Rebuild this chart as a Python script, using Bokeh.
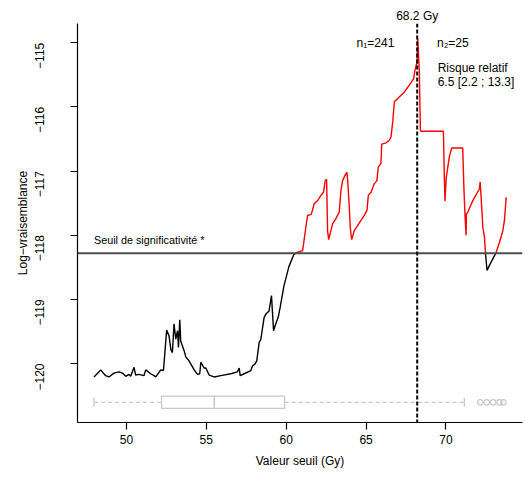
import math
from bokeh.plotting import figure
from bokeh.models import Range1d, FixedTicker, Label, Span, LinearAxis
from bokeh.core.properties import value
from bokeh.embed import file_html
from bokeh.resources import INLINE

# ---- data ----
seuil_x = [47.97, 48.39, 48.70, 48.91, 49.22, 49.54, 49.75, 49.96, 50.16, 50.27,
           50.48, 50.58, 50.79, 51.10, 51.21, 51.52, 51.73, 51.84, 52.15, 52.32,
           52.52, 52.67, 52.78, 52.88, 52.98, 53.09, 53.20, 53.26, 53.34, 53.40,
           53.61, 53.72, 53.92, 54.24, 54.45, 54.59, 54.66, 54.86, 54.97, 55.18,
           55.49, 55.91, 56.54, 56.95, 57.06, 57.12, 57.37, 57.79, 57.89, 58.04,
           58.16, 58.31, 58.41, 58.62, 58.73, 58.93, 59.08, 59.21, 59.35, 59.50,
           59.62, 59.86, 60.17, 60.48, 60.67, 61.03, 61.13, 61.23, 61.34, 61.55,
           61.65, 61.75, 61.97, 62.17, 62.34, 62.44, 62.53, 62.59, 62.66, 62.80,
           62.91, 63.11, 63.32, 63.43, 63.53, 63.74, 63.80, 63.85, 63.95, 64.01,
           64.10, 64.26, 64.47, 64.68, 64.89, 65.06, 65.14, 65.31, 65.51, 65.68,
           65.76, 65.93, 65.98, 66.25, 66.45, 66.56, 66.67, 66.77, 66.98, 67.19,
           67.39, 67.71, 67.98, 68.06, 68.19, 68.23, 68.33, 68.40, 68.44, 69.84,
           69.90, 69.94, 70.01, 70.21, 70.36, 71.05, 71.12, 71.20, 71.26, 71.28,
           71.37, 71.68, 72.09, 72.14, 72.20, 72.31, 72.41, 72.47, 72.57, 72.72,
           72.93, 73.14, 73.35, 73.56, 73.66, 73.77]
loglik_y = [-120.21, -120.10, -120.19, -120.21, -120.15, -120.13, -120.15, -120.20, -120.17, -120.20,
            -120.06, -120.18, -120.17, -120.19, -120.10, -120.16, -120.19, -120.21, -120.10, -120.11,
            -119.48, -119.57, -119.78, -119.83, -119.38, -119.62, -119.49, -119.75, -119.32, -119.65,
            -119.80, -119.90, -119.96, -120.10, -120.17, -120.16, -119.98, -120.07, -120.07, -120.18,
            -120.21, -120.19, -120.16, -120.13, -120.07, -120.19, -120.16, -120.11, -120.04, -120.01,
            -119.96, -119.67, -119.63, -119.28, -119.23, -119.18, -118.94, -119.49, -119.38, -119.28,
            -119.13, -118.79, -118.49, -118.30, -118.27, -118.24, -118.06, -117.88, -117.69, -117.68,
            -117.61, -117.51, -117.46, -117.38, -117.33, -117.15, -117.13, -117.93, -118.07, -117.93,
            -117.82, -117.74, -117.64, -117.30, -117.15, -117.04, -117.02, -117.15, -117.56, -117.88,
            -118.07, -117.93, -117.85, -117.77, -117.69, -117.61, -117.38, -117.33, -117.20, -117.15,
            -116.94, -116.88, -116.58, -116.56, -116.52, -116.47, -116.23, -115.92, -115.87, -115.82,
            -115.77, -115.66, -115.56, -115.43, -115.30, -114.93, -115.43, -116.36, -116.38, -116.38,
            -117.12, -117.47, -117.12, -116.78, -116.64, -116.64, -117.25, -117.74, -118.00, -117.67,
            -117.64, -117.46, -117.28, -117.17, -117.41, -117.88, -118.03, -118.27, -118.55, -118.47,
            -118.37, -118.27, -118.11, -117.93, -117.77, -117.41]
threshold = -118.28
cut_dose = 68.2
box_stats = [47.97, 52.2, 55.5, 59.9, 71.15]   # whisker low, Q1, median, Q3, whisker high
outliers = [72.15, 72.55, 72.95, 73.35, 73.6]
x_ticks = [50, 55, 60, 65, 70]
y_ticks = [-120, -119, -118, -117, -116, -115]

FONT = "Liberation Sans"

# ---- split the curve into pieces above (red) / below (black) the threshold ----
pieces_x, pieces_y, piece_cols = [], [], []
above = loglik_y[0] > threshold
cx, cy = [seuil_x[0]], [loglik_y[0]]
for i in range(1, len(seuil_x)):
    x0, y0, x1, y1 = seuil_x[i - 1], loglik_y[i - 1], seuil_x[i], loglik_y[i]
    a1 = y1 > threshold
    if a1 != above:
        t = (threshold - y0) / (y1 - y0)
        xc = x0 + t * (x1 - x0)
        cx.append(xc); cy.append(threshold)
        pieces_x.append(cx); pieces_y.append(cy)
        piece_cols.append("#ff0000" if above else "black")
        cx, cy = [xc], [threshold]
        above = a1
    cx.append(x1); cy.append(y1)
pieces_x.append(cx); pieces_y.append(cy)
piece_cols.append("#ff0000" if above else "black")

p = figure(width=525, height=483, output_backend="svg", toolbar_location=None,
           x_range=Range1d(46.94, 74.79), y_range=Range1d(-120.92, -114.70),
           min_border_left=77, min_border_right=3, min_border_top=23, min_border_bottom=61)
p.outline_line_color = None
p.xgrid.visible = False
p.ygrid.visible = False
p.background_fill_color = "white"
bottom_ax = p.below[0]
left_ax = p.left[0]

# boxplot
BOX_Y = -120.605
BOX_H = 0.095
CAP_H = 0.07
GRAY = "#c8c8c8"
wl, q1, med, q3, wh = box_stats
p.segment(x0=[wl, q3], y0=[BOX_Y, BOX_Y], x1=[q1, wh], y1=[BOX_Y, BOX_Y],
          line_color=GRAY, line_width=1.3, line_dash="4 3")
p.segment(x0=[wl, wh], y0=[BOX_Y - CAP_H] * 2, x1=[wl, wh], y1=[BOX_Y + CAP_H] * 2,
          line_color=GRAY, line_width=1.3)
p.quad(left=[q1], right=[q3], bottom=[BOX_Y - BOX_H], top=[BOX_Y + BOX_H],
       fill_color=None, line_color=GRAY, line_width=1.3)
p.segment(x0=[med], y0=[BOX_Y - BOX_H], x1=[med], y1=[BOX_Y + BOX_H],
          line_color=GRAY, line_width=1.5)
p.scatter(x=outliers, y=[BOX_Y] * len(outliers), marker="circle", size=5.5,
          fill_color=None, line_color=GRAY, line_width=1.2)

# threshold line and cut-point line
p.add_layout(Span(location=threshold, dimension="width", line_color="#4d4d4d", line_width=2))
p.add_layout(Span(location=cut_dose, dimension="height", line_color="black",
                  line_width=2, line_dash="4 2"))

# curve
p.multi_line(xs=pieces_x, ys=pieces_y, line_color=piece_cols, line_width=1.4)

# texts
def lab(x, y, text, align="left", size="12px"):
    p.add_layout(Label(x=x, y=y, text=text, text_align=align, text_baseline="middle",
                       text_font=FONT, text_font_size=size, text_color="black"))

lab(66.77, -115.01, "n\u2081=241", "right")
lab(69.44, -115.01, "n\u2082=25", "left")
lab(69.48, -115.40, "Risque relatif", "left")
lab(69.48, -115.61, "6.5 [2.2 ; 13.3]", "left")
lab(47.97, -118.08, "Seuil de significativit\u00e9 *", "left", "10.8px")

# "68.2 Gy" above the frame, placed by an axis at the cut dose
top_ax = LinearAxis(ticker=FixedTicker(ticks=[cut_dose]),
                    major_label_overrides={cut_dose: "%.1f Gy" % cut_dose})
top_ax.axis_line_color = None
top_ax.major_tick_line_color = None
top_ax.minor_tick_line_color = None
top_ax.major_tick_out = 0
top_ax.major_tick_in = 0
top_ax.major_label_standoff = 1
top_ax.major_label_text_font = FONT
top_ax.major_label_text_font_size = "12px"
top_ax.major_label_text_color = "black"
p.add_layout(top_ax, "above")

# axes
for ax in (bottom_ax, left_ax):
    ax.axis_line_color = "black"
    ax.axis_line_width = 1.2
    ax.major_tick_line_color = "black"
    ax.major_tick_line_width = 1.2
    ax.major_tick_out = 7
    ax.major_tick_in = 0
    ax.minor_tick_line_color = None
    ax.major_label_text_font = FONT
    ax.major_label_text_font_size = "12px"
    ax.major_label_text_color = "black"
    ax.axis_label_text_font = FONT
    ax.axis_label_text_font_size = "12px"
    ax.axis_label_text_font_style = "normal"
    ax.axis_label_text_color = "black"

bottom_ax.ticker = FixedTicker(ticks=x_ticks)
left_ax.ticker = FixedTicker(ticks=y_ticks)
left_ax.major_label_overrides = {t: "\u2212" + str(abs(t)) for t in y_ticks}
left_ax.major_label_orientation = math.pi / 2
bottom_ax.axis_label = "Valeur seuil (Gy)"
left_ax.axis_label = "Log\u2212vraisemblance"
bottom_ax.major_label_standoff = 5
bottom_ax.axis_label_standoff = 7
left_ax.major_label_standoff = 31
left_ax.axis_label_standoff = -2

open("out.html", "w").write(file_html(p, INLINE))
